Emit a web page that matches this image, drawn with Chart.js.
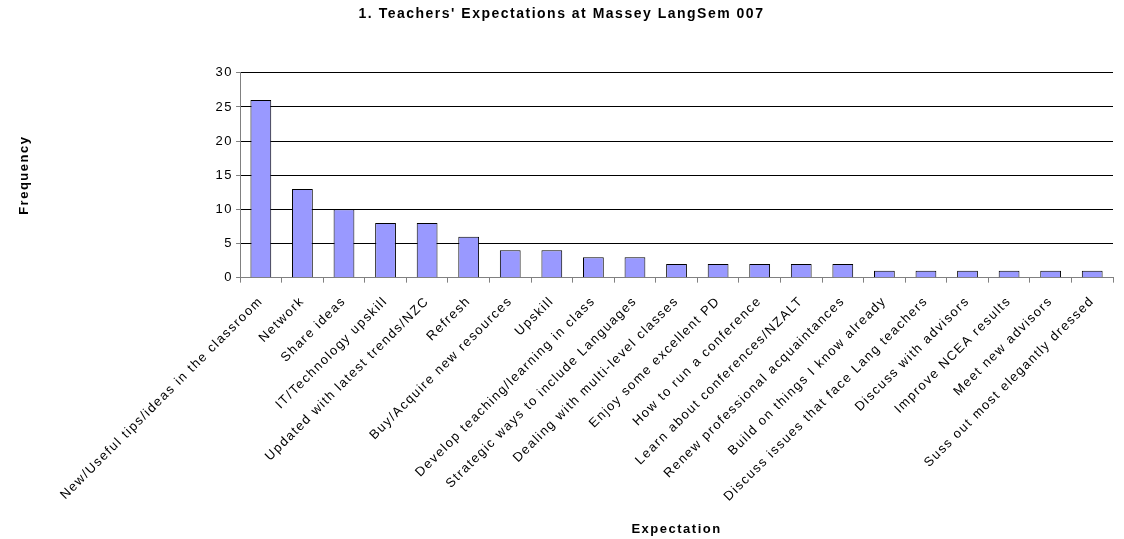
<!DOCTYPE html>
<html>
<head>
<meta charset="utf-8">
<script src="https://cdn.jsdelivr.net/npm/chart.js@4/dist/chart.umd.min.js"></script>
<style>
    body { margin: 0; background: #ffffff; }
    #wrap { width: 1124px; height: 539px; position: relative; }
</style>
</head>
<body>
<div id="wrap"><canvas id="expectChart"></canvas></div>
<script>
// Teachers' expectations - frequency per answer
const categories = [
    'New/Useful tips/ideas in the classroom',
    'Network',
    'Share ideas',
    'IT/Technology upskill',
    'Updated with latest trends/NZC',
    'Refresh',
    'Buy/Acquire new resources',
    'Upskill',
    'Develop teaching/learning in class',
    'Strategic ways to include Languages',
    'Dealing with multi-level classes',
    'Enjoy some excellent PD',
    'How to run a conference',
    'Learn about conferences/NZALT',
    'Renew professional acquaintances',
    'Build on things I know already',
    'Discuss issues that face Lang teachers',
    'Discuss with advisors',
    'Improve NCEA results',
    'Meet new advisors',
    'Suss out most elegantly dressed'
];
const frequency = [26, 13, 10, 8, 8, 6, 4, 4, 3, 3, 2, 2, 2, 2, 2, 1, 1, 1, 1, 1, 1];
const yTicks = [0, 5, 10, 15, 20, 25, 30];

const chartTitle = "1. Teachers' Expectations at Massey LangSem 007";
const fontFamily = 'Arial, "Liberation Sans", sans-serif';

// the original (Excel) text is spaced out a bit, so widen every glyph run
const letterSpacingPlugin = {
    id: 'letterSpacing',
    beforeLayout(chart) { chart.ctx.letterSpacing = '1.5px'; },
    beforeDraw(chart) { chart.ctx.letterSpacing = '1.5px'; }
};

new Chart(document.getElementById('expectChart'), {
    type: 'bar',
    data: {
        labels: categories,
        datasets: [{
            label: 'Frequency',
            data: frequency,
            backgroundColor: '#9999FF',
            borderColor: '#000000',
            borderWidth: 1,
            barPercentage: 0.5,
            categoryPercentage: 1.0
        }]
    },
    plugins: [letterSpacingPlugin],
    options: {
        responsive: true,
        maintainAspectRatio: false,
        animation: false,
        layout: {
            padding: { left: 10, right: 11, top: 0, bottom: 2 }
        },
        plugins: {
            legend: { display: false },
            tooltip: { enabled: false },
            title: {
                display: true,
                text: chartTitle,
                color: '#000000',
                font: { family: fontFamily, size: 14, weight: 'bold' },
                padding: { top: 6, bottom: 50 }
            }
        },
        scales: {
            x: {
                grid: {
                    offset: true,
                    drawOnChartArea: false,
                    drawTicks: true,
                    tickLength: 5,
                    color: '#808080'
                },
                border: { color: '#808080', width: 1 },
                ticks: {
                    autoSkip: false,
                    minRotation: 45,
                    maxRotation: 45,
                    padding: 11,
                    color: '#000000',
                    font: { family: fontFamily, size: 13 }
                },
                title: {
                    display: true,
                    text: 'Expectation',
                    color: '#000000',
                    font: { family: fontFamily, size: 13, weight: 'bold' },
                    padding: { top: 6, bottom: 0 }
                }
            },
            y: {
                min: 0,
                max: 30,
                afterBuildTicks: (axis) => {
                    axis.ticks = yTicks.map(v => ({ value: v }));
                },
                grid: {
                    color: '#000000',
                    drawTicks: true,
                    tickLength: 4,
                    tickColor: '#808080'
                },
                border: { color: '#808080', width: 1 },
                ticks: {
                    padding: 3,
                    color: '#000000',
                    font: { family: fontFamily, size: 13 }
                },
                title: {
                    display: true,
                    text: 'Frequency',
                    color: '#000000',
                    font: { family: fontFamily, size: 13, weight: 'bold' },
                    padding: { top: 7, bottom: 180 }
                }
            }
        }
    }
});
</script>
</body>
</html>
